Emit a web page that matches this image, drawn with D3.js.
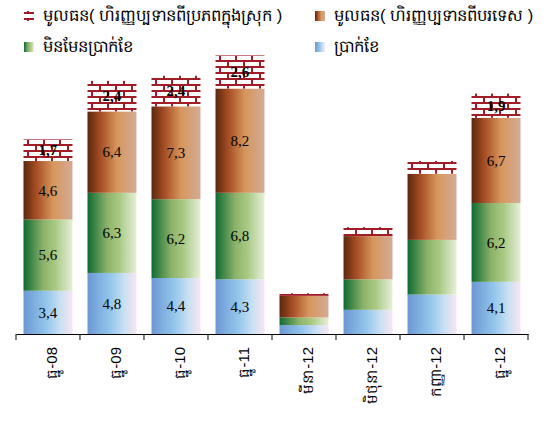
<!DOCTYPE html>
<html>
<head>
<meta charset="utf-8">
<script src="https://cdn.jsdelivr.net/npm/d3@7"></script>
<style>
  html, body { margin: 0; padding: 0; background: #fff; }
  svg { display: block; }
</style>
</head>
<body>
<svg id="chart" width="551" height="421"></svg>
<script>
// ---- data ----
const categories = ["ធ្នូ-08", "ធ្នូ-09", "ធ្នូ-10", "ធ្នូ-11", "មីនា-12", "មិថុនា-12", "កញ្ញា-12", "ធ្នូ-12"];
const wages        = [3.4, 4.8, 4.4, 4.3, 0.7, 1.9, 3.1, 4.1];
const nonWages     = [5.6, 6.3, 6.2, 6.8, 0.6, 2.4, 4.3, 6.2];
const capitalForeign  = [4.6, 6.4, 7.3, 8.2, 1.7, 3.4, 5.2, 6.7];
const capitalDomestic = [1.7, 2.4, 2.4, 2.6, 0.2, 0.7, 1.0, 1.9];
const showLabels = [true, true, true, true, false, false, false, true];
const seriesNames = ["ប្រាក់ខែ", "មិនមែនប្រាក់ខែ", "មូលធន( ហិរញ្ញប្បទានពីបរទេស )", "មូលធន( ហិរញ្ញប្បទានពីប្រភពក្នុងស្រុក )"];

const svg = d3.select("#chart");
const defs = svg.append("defs");

function grad(id, stops) {
  const g = defs.append("linearGradient").attr("id", id)
    .attr("x1", "0%").attr("x2", "100%").attr("y1", "0%").attr("y2", "0%");
  stops.forEach(([o, c]) => g.append("stop").attr("offset", o).attr("stop-color", c));
}
grad("gBlue",  [[0, "#6b97d3"], [0.45, "#92c4ec"], [0.75, "#c9e0f1"], [1, "#f8e6f3"]]);
grad("gGreen", [[0, "#0f6a33"], [0.4, "#8bb26a"], [0.65, "#a9c983"], [1, "#e6efd9"]]);
grad("gBrown", [[0, "#5a2811"], [0.25, "#a44b22"], [0.6, "#d6965c"], [1, "#d5ab96"]]);

// brick pattern
const pat = defs.append("pattern").attr("id", "brick")
  .attr("patternUnits", "userSpaceOnUse").attr("width", 16).attr("height", 12);
pat.append("rect").attr("width", 16).attr("height", 12).attr("fill", "#fff");
pat.append("rect").attr("x", 0).attr("y", 0).attr("width", 16).attr("height", 2).attr("fill", "#a01c26");
pat.append("rect").attr("x", 0).attr("y", 6).attr("width", 16).attr("height", 2).attr("fill", "#a01c26");
pat.append("rect").attr("x", 3).attr("y", 0).attr("width", 2).attr("height", 6).attr("fill", "#a01c26");
pat.append("rect").attr("x", 11).attr("y", 6).attr("width", 2).attr("height", 6).attr("fill", "#a01c26");

const fills = ["url(#gBlue)", "url(#gGreen)", "url(#gBrown)", "url(#brick)"];

const x = d3.scaleBand().domain(categories).range([16, 528]).paddingInner(0.235).paddingOuter(0.117);
const y = d3.scaleLinear().domain([0, 22]).range([334, 334 - 22 * 12.72]);

const rows = categories.map((c, i) => ({
  cat: c, show: showLabels[i],
  v: [wages[i], nonWages[i], capitalForeign[i], capitalDomestic[i]]
}));

const fmt = v => v.toFixed(1).replace(".", ",");

rows.forEach(r => {
  let acc = 0;
  r.v.forEach((v, k) => {
    const y0 = acc, y1 = acc + v;
    acc = y1;
    svg.append("rect")
      .attr("x", x(r.cat)).attr("width", x.bandwidth())
      .attr("y", y(y1)).attr("height", y(y0) - y(y1))
      .attr("fill", fills[k]);
    if (r.show) {
      svg.append("text")
        .attr("x", x(r.cat) + x.bandwidth() / 2)
        .attr("y", (y(y0) + y(y1)) / 2)
        .attr("dy", "0.35em")
        .attr("text-anchor", "middle")
        .attr("font-family", "'Liberation Serif', 'Times New Roman', serif")
        .attr("font-size", 15)
        .attr("font-weight", k === 3 ? "bold" : "normal")
        .attr("fill", "#000")
        .text(fmt(v));
    }
  });
});

// axis
const axis = d3.axisBottom(x).tickSize(0).tickSizeOuter(0).tickFormat(() => "");
const gAx = svg.append("g").attr("transform", "translate(0,334)").call(axis);
gAx.select(".domain").attr("stroke", "#000");
const edges = categories.map(c => x(c) - x.step() * x.paddingInner() / 2);
edges.push(528);
edges[0] = 16;
gAx.selectAll("line.edge").data(edges).enter().append("line")
  .attr("class", "edge").attr("x1", d => d).attr("x2", d => d)
  .attr("y1", 0).attr("y2", 6).attr("stroke", "#000");
gAx.selectAll("text.lab").data(categories).enter().append("text")
  .attr("class", "lab")
  .attr("transform", d => `translate(${x(d) + x.bandwidth() / 2},0) rotate(-90)`)
  .attr("x", -13).attr("y", 9)
  .attr("text-anchor", "end")
  .attr("font-family", "'Liberation Sans', Arial, sans-serif")
  .attr("font-size", 15)
  .attr("fill", "#000")
  .text(d => d);

// legend
const legend = [
  { name: seriesNames[3], fill: fills[3], x: 24, y: 11 },
  { name: seriesNames[2], fill: fills[2], x: 315, y: 11 },
  { name: seriesNames[1], fill: fills[1], x: 24, y: 42 },
  { name: seriesNames[0], fill: fills[0], x: 315, y: 42 }
];
legend.forEach(l => {
  svg.append("rect").attr("x", l.x).attr("y", l.y).attr("width", 10).attr("height", 10).attr("fill", l.fill);
  svg.append("text").attr("x", l.x + 19).attr("y", l.y + 10)
    .attr("font-family", "'Liberation Sans', Arial, sans-serif")
    .attr("font-size", 16.5).attr("fill", "#000").text(l.name);
});
</script>
</body>
</html>
